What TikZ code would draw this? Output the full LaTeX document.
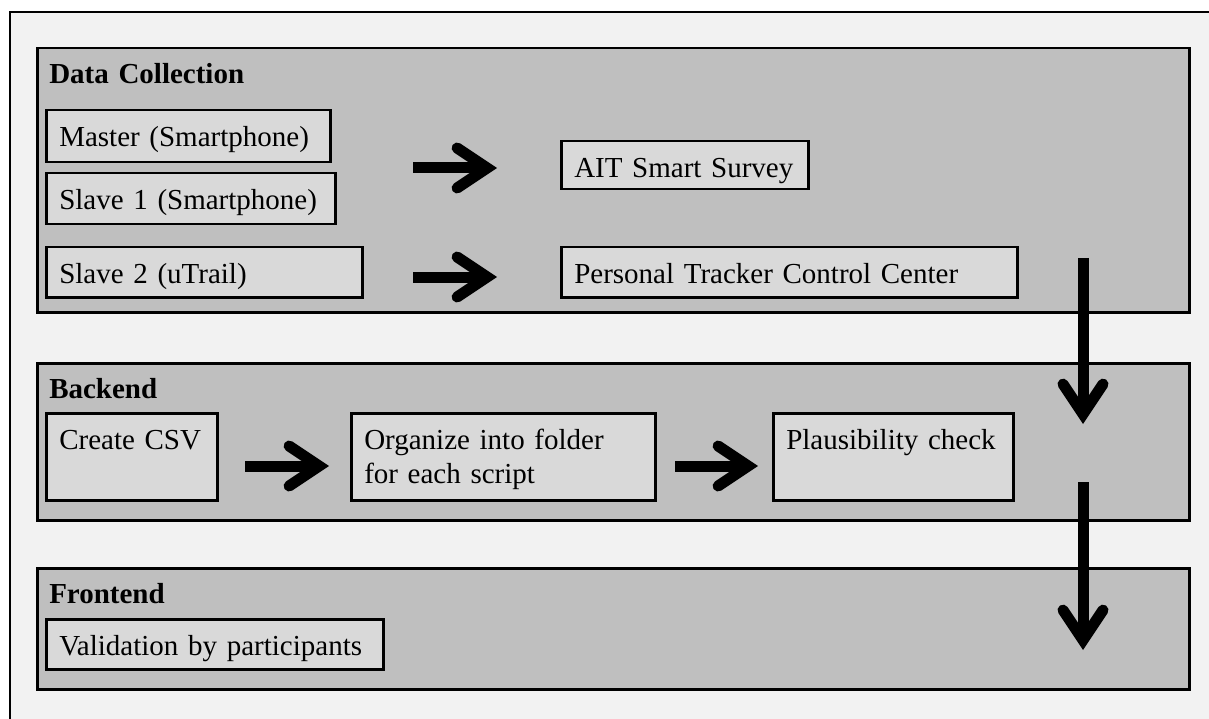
\documentclass[tikz,border=0pt]{standalone}
\usepackage{fontspec}
\setmainfont{Liberation Serif}
\usetikzlibrary{arrows.meta}
\definecolor{bgc}{HTML}{F2F2F2}
\definecolor{panelc}{HTML}{BFBFBF}
\definecolor{boxc}{HTML}{D9D9D9}
\begin{document}
\begin{tikzpicture}[x=1pt,y=-1pt,
  panel/.style={draw, line width=2.5pt, fill=panelc, anchor=north west, inner xsep=12pt, inner ysep=0pt, align=left, text height=35pt, font=\fontsize{29}{34}\selectfont\bfseries},
  box/.style={draw, line width=2.5pt, fill=boxc, anchor=north west, inner xsep=13pt, inner ysep=0pt, align=left, text height=36pt, font=\fontsize{29}{34}\selectfont},
  bigarrow/.style={line width=11pt, -{Straight Barb[length=30pt,width=40pt,line cap=round,line join=miter]}}
]
\useasboundingbox (0,0) rectangle (1209,719);
\fill[white] (0,0) rectangle (1209,719);
\fill[bgc] (10,12) rectangle (1209,719);
\draw[line width=2.5pt] (1209,12) -- (10,12) -- (10,719);

% panels
\node[panel, text width=1128pt, text depth=229pt] (dc) at (36,47) {Data Collection};
\node[panel, text width=1128pt, text depth=122pt] (be) at (36,362) {Backend};
\node[panel, text width=1128pt, text depth=86pt] (fe) at (36,567) {Frontend};

% data collection boxes
\node[box, text width=258pt, text depth=16pt] (master) at (45,109) {Master (Smartphone)};
\node[box, text width=263pt, text depth=15pt] (slave1) at (45,172) {Slave 1 (Smartphone)};
\node[box, text width=290pt, text depth=14pt] (slave2) at (45,246) {Slave 2 (uTrail)};
\node[box, text width=221pt, text depth=12pt] (ait) at (560,140) {AIT Smart Survey};
\node[box, text width=430pt, text depth=14pt] (ptcc) at (560,246) {Personal Tracker Control Center};

% backend boxes
\node[box, text width=145pt, text depth=51pt] (csv) at (45,412) {Create CSV};
\node[box, text width=278pt, text depth=51pt] (org) at (350,412) {Organize into folder\\for each script};
\node[box, text width=214pt, text depth=51pt] (plaus) at (772,412) {Plausibility check};

% frontend box
\node[box, text width=311pt, text depth=14pt] (valid) at (45,618) {Validation by participants};

% arrow end points
\coordinate (a1s) at (413,168);
\coordinate (a1e) at (497,168);
\coordinate (a2s) at (413,277);
\coordinate (a2e) at (497,277);
\coordinate (a3s) at (245,466);
\coordinate (a3e) at (329,466);
\coordinate (a4s) at (675,466);
\coordinate (a4e) at (758,466);
\coordinate (v1s) at (1083,258);
\coordinate (v1e) at (1083,424);
\coordinate (v2s) at (1083,482);
\coordinate (v2e) at (1083,650);

\draw[bigarrow] (a1s) -- (a1e);
\draw[bigarrow] (a2s) -- (a2e);
\draw[bigarrow] (a3s) -- (a3e);
\draw[bigarrow] (a4s) -- (a4e);
\draw[bigarrow] (v1s) -- (v1e);
\draw[bigarrow] (v2s) -- (v2e);
\end{tikzpicture}
\end{document}
